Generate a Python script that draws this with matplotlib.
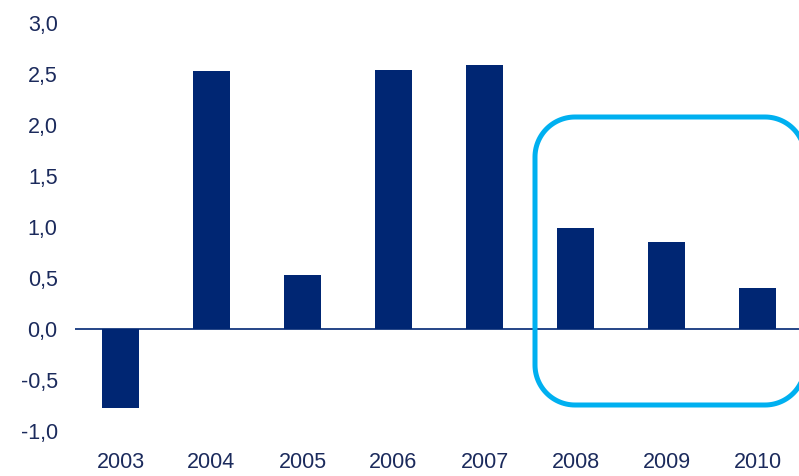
import numpy as np
import matplotlib.pyplot as plt
from matplotlib.lines import Line2D
from matplotlib.transforms import IdentityTransform

plt.rcParams['font.family'] = ['Liberation Sans', 'DejaVu Sans']

years = ['2003', '2004', '2005', '2006', '2007', '2008', '2009', '2010']
values = [-0.77, 2.53, 0.53, 2.54, 2.59, 0.99, 0.85, 0.40]
yticks = [-1.0, -0.5, 0.0, 0.5, 1.0, 1.5, 2.0, 2.5, 3.0]

navy = '#002673'
text_col = '#1b2a5c'

fig = plt.figure(figsize=(7.99, 4.76), dpi=100)
# axes spans a bit past the right edge of the figure, like the original
ax = fig.add_axes([75/799, 45/476, 728/799, 408/476])

x = range(len(years))
ax.bar(x, values, width=0.40, color=navy, zorder=2)
ax.axhline(0, color=navy, lw=1.2, zorder=3)

ax.set_xlim(-0.5, 7.5)
ax.set_ylim(-1.0, 3.0)
ax.set_yticks(yticks)
ax.set_yticklabels([f'{v:.1f}'.replace('.', ',') for v in yticks])
ax.set_xticks(list(x))
ax.set_xticklabels(years)
ax.tick_params(length=0, labelsize=15.5, colors=text_col)
ax.tick_params(axis='y', pad=12.5)
ax.tick_params(axis='x', pad=15)
for s in ax.spines.values():
    s.set_visible(False)

# rounded highlight box around 2008-2010, in pixels (runs off the right edge)
x0, x1, y0, y1, r = 535, 805, 71, 359, 40
t = np.linspace(0, np.pi / 2, 30)
px, py = [], []
for cx, cy, a0 in [(x1 - r, y1 - r, 0), (x0 + r, y1 - r, np.pi / 2),
                   (x0 + r, y0 + r, np.pi), (x1 - r, y0 + r, 1.5 * np.pi)]:
    px.extend(cx + r * np.cos(a0 + t))
    py.extend(cy + r * np.sin(a0 + t))
px.append(px[0])
py.append(py[0])
fig.lines.append(Line2D(px, py, transform=IdentityTransform(),
                        color='#00b0f0', lw=3.6, zorder=4,
                        solid_joinstyle='round'))

fig.savefig('out.png', dpi=100)
